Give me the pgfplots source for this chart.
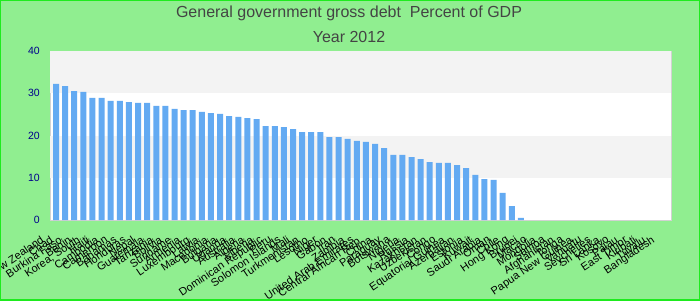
\documentclass[border=0pt]{standalone}
\usepackage{pgfplots}
\pgfplotsset{compat=1.18}
\usepackage{fontspec}
\setmainfont{Liberation Sans}

\definecolor{bg}{RGB}{144,238,144}
\definecolor{edge}{RGB}{30,235,30}
\definecolor{barblue}{RGB}{99,170,242}
\definecolor{band}{RGB}{243,243,243}
\definecolor{frame}{RGB}{210,210,210}
\definecolor{titlegray}{RGB}{68,68,68}
\definecolor{ticknavy}{RGB}{0,0,140}

\begin{document}
\begin{tikzpicture}[x=1pt,y=1pt]
\useasboundingbox (0,0) rectangle (700,300);
\fill[bg] (0,0) rectangle (700,300);

\node[text=titlegray, font=\fontsize{16}{19}\selectfont] at (349,287)
  {General government gross debt~ Percent of GDP};
\node[text=titlegray, font=\fontsize{16}{19}\selectfont] at (349,263.5)
  {Year 2012};

\begin{axis}[
    at={(50pt,80pt)}, anchor=south west,
    scale only axis,
    width=621pt, height=169pt,
    xmin=-0.66, xmax=67.47,
    ymin=0, ymax=40,
    ytick={0,10,20,30,40},
    xtick={0,...,67},
    xticklabels={New Zealand, Chad, Burkina Faso, Benin, {Korea, South},
      Haiti, Cambodia, Cameroon, Bahamas, Honduras, Nepal, Guatemala,
      Tanzania, Bolivia, Suriname, Armenia, Luxembourg, Latvia, Macedonia,
      Bulgaria, Uganda, Australia, Algeria, Liberia, Dominican Republic, Peru,
      Solomon Islands, Mali, Turkmenistan, Lesotho, Niger, Gabon, Iran, Zambia,
      United Arab Emirates, Central African Rep., China, Paraguay, Botswana,
      Nigeria, Russia, Kazakhstan, Uzbekistan, Congo, Equatorial Guinea,
      Azerbaijan, Estonia, Kuwait, Saudi Arabia, Oman, Chile, Hong Kong,
      Brunei, Macao, Mongolia, Samoa, Afghanistan, Tonga, Papua New Guinea,
      Vanuatu, Seychelles, Sri Lanka, Kosovo, Palau, East Timor, Kiribati,
      Tuvalu, Bangladesh},
    xticklabel style={font=\fontsize{11}{12}\selectfont, rotate=34,
      anchor=north east, inner sep=0pt, xshift=-21.5pt, yshift=-3.5pt},
    yticklabel style={font=\fontsize{10.5}{12}\selectfont, text=ticknavy,
      anchor=east, inner sep=0pt, xshift=-10pt},
    /pgf/number format/assume math mode=true,
    major tick length=0pt,
    tick style={draw=none},
    axis line style={frame},
    axis background/.style={fill=white},
]
\fill[band] (rel axis cs:0,0.75) rectangle (rel axis cs:1,1);
\fill[band] (rel axis cs:0,0.25) rectangle (rel axis cs:1,0.5);

\addplot[ybar, fill=barblue, draw=none, bar width=6pt] coordinates {
  (0,32.2) (1,31.7) (2,30.5) (3,30.3) (4,28.9) (5,28.9) (6,28.2) (7,28.2)
  (8,27.9) (9,27.7) (10,27.7) (11,27.0) (12,27.0) (13,26.3) (14,26.0)
  (15,26.0) (16,25.6) (17,25.3) (18,25.1) (19,24.6) (20,24.4) (21,24.1)
  (22,23.9) (23,22.2) (24,22.2) (25,22.0) (26,21.5) (27,20.8) (28,20.8)
  (29,20.8) (30,19.6) (31,19.6) (32,19.2) (33,18.7) (34,18.5) (35,18.0)
  (36,17.0) (37,15.4) (38,15.4) (39,14.9) (40,14.4) (41,13.7) (42,13.5)
  (43,13.5) (44,13.0) (45,12.3) (46,10.7) (47,9.7) (48,9.5) (49,6.4)
  (50,3.3) (51,0.5)
};
\end{axis}

\draw[edge, line width=1.6pt] (0,0) rectangle (700,300);
\end{tikzpicture}
\end{document}
